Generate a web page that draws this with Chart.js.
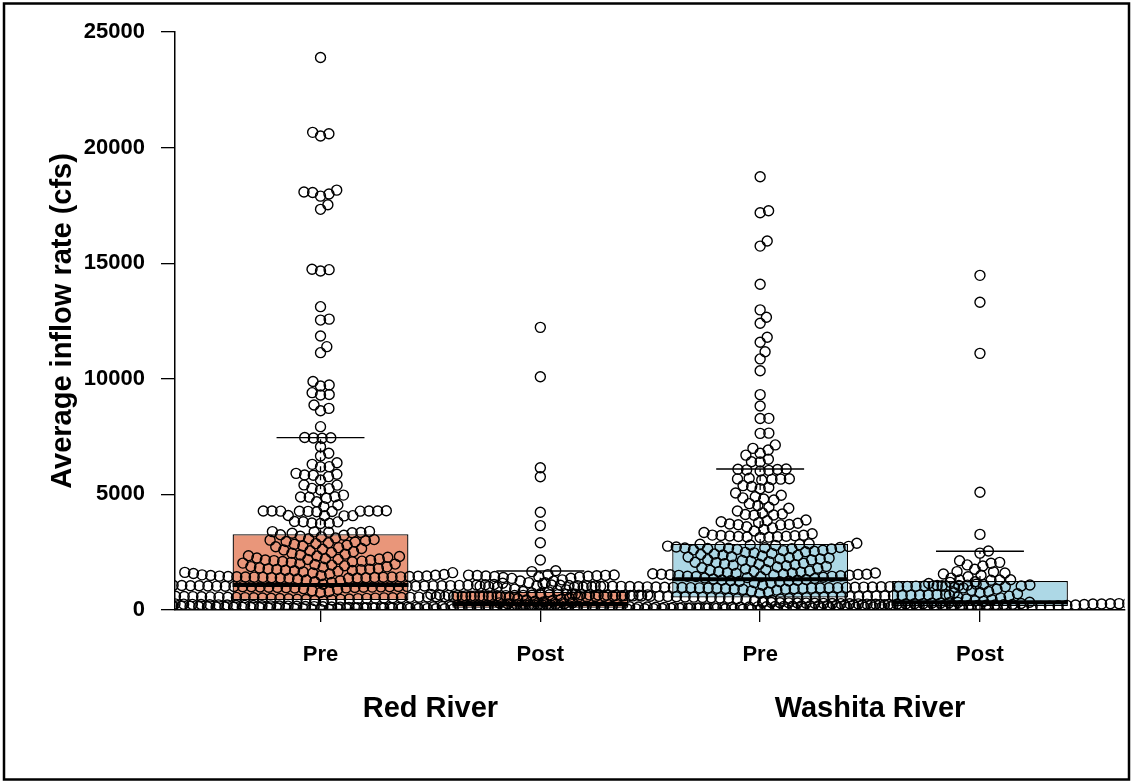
<!DOCTYPE html>
<html>
<head>
<meta charset="utf-8">
<title>Average inflow rate</title>
<script src="https://cdn.jsdelivr.net/npm/chart.js@4.4.1/dist/chart.umd.min.js"></script>
<style>
  html, body { margin: 0; padding: 0; background: #fff; }
  canvas { display: block; }
</style>
</head>
<body>
<canvas id="chart" width="1131" height="782"></canvas>
<script>
// ---- categories and tick labels ----
const rivers = ['Red River', 'Washita River'];
const periods = ['Pre', 'Post', 'Pre', 'Post'];
const groupPositions = [1, 2, 3, 4];
const riverPositions = [1.5, 3.5];
const yTicks = [0, 5000, 10000, 15000, 20000, 25000];
const boxColors = ['#E9967A', '#E9967A', '#ADD8E6', '#ADD8E6'];

// ---- box summaries per group (cfs) ----
const whiskerLow = [26, 3, 14, 28];
const lowerQuartile = [430, 100, 540, 170];
const medians = [1080, 260, 1330, 330];
const upperQuartile = [3274, 790, 2855, 1255];
const whiskerHigh = [7455, 1690, 6100, 2540];

// ---- observed average inflow rates (cfs) ----
const redPre = [
  23900, 20660, 20600, 20500, 18160, 18080, 18060, 17990, 17900, 17530, 17330,
  14740, 14720, 14660, 13120, 12580, 12540, 11850, 11390, 11130,
  9880, 9730, 9690, 9400, 9320, 9300, 8870, 8720, 8620, 7930,
  7460, 7450, 7440, 7430, 7060, 6780, 6660, 6370, 6300, 6200, 6190,
  5910, 5870, 5840, 5830, 5770, 5620, 5410, 5400, 5260, 5250, 5190,
  4970, 4900, 4890, 4880, 4830, 4680, 4540, 4470,
  4290, 4285, 4280, 4280, 4280, 4275, 4275, 4270, 4265, 4260, 4250,
  4090, 4080, 4075, 4070, 3830, 3820, 3810, 3760, 3750, 3740,
  3400, 3390, 3380, 3360, 3350, 3340, 3320,
  3252, 3231, 3188, 3163, 3117, 3084, 3046, 3021, 2998, 2966, 2943, 2905, 2871, 2838,
  2802, 2769, 2734, 2697, 2662, 2628, 2593, 2561, 2524, 2487, 2453, 2418, 2382,
  2347, 2334, 2313, 2279, 2251, 2218, 2207, 2197, 2182, 2163, 2149,
  2136, 2112, 2095, 2088, 2061, 2029, 1997, 1986, 1968, 1943, 1912, 1878,
  1867, 1853, 1821, 1798, 1779, 1762, 1751, 1738, 1722, 1709, 1698, 1672,
  1648, 1627, 1615, 1603, 1579, 1562, 1538, 1521,
  1505, 1492, 1488, 1471, 1466, 1458, 1449, 1446, 1441, 1433, 1430,
  1427, 1422, 1419, 1410, 1404, 1401, 1396, 1390, 1386, 1378, 1371,
  1342, 1297, 1263, 1228, 1187, 1158,
  1124, 1116, 1103, 1097, 1091, 1084, 1081, 1077, 1072, 1066, 1063, 1059, 1056, 1052,
  1049, 1046, 1043, 1039, 1036, 1031, 1028, 1025, 1022, 1018, 1014, 1011, 1007, 1003,
  999, 996, 991, 987, 983, 977, 972, 966, 958, 949,
  921, 884, 838, 803, 757, 716,
  684, 677, 671, 667, 662, 656, 653, 648, 645, 641, 638, 634, 631, 627, 624, 621, 617,
  614, 611, 608, 604, 601, 598, 596, 593, 589, 586, 583, 580, 577, 573, 570, 566, 563,
  559, 556, 552, 548, 544, 541, 537, 533, 528, 524, 519, 515, 508, 503, 497, 491, 484,
  476, 468, 459, 451,
  438, 407, 383, 352, 318, 291, 263,
  243, 236, 231, 227, 222, 218, 214, 211, 207, 203, 199, 196, 193, 189, 186, 183, 179,
  176, 173, 171, 168, 165, 162, 159, 156, 153, 149, 146, 143, 139, 136, 133, 129, 126,
  122, 119, 115, 112, 108, 104, 101, 97, 93, 88, 84, 79, 74, 69, 63, 58, 52, 47, 41, 34, 26
];

const redPost = [
  12225, 10090, 6155, 5765, 4225, 3650, 2910, 2160, 1700, 1660,
  1532, 1517, 1509, 1498, 1491, 1479, 1468, 1462, 1448, 1437, 1421, 1403,
  1372, 1366, 1302, 1257, 1248, 1183, 1176,
  1052, 1033, 1021, 1012, 1006, 998, 989, 979, 948, 903, 871, 838, 801,
  781, 742, 706,
  668, 655, 647, 640, 633, 627, 621, 614, 609, 603, 598, 592, 587, 581, 574, 566, 558,
  549, 537, 522, 488, 461, 433, 402, 377, 351, 329, 318, 311, 306, 304, 297, 291, 286,
  281, 277, 272, 268, 265,
  258, 252, 249, 244, 241, 237, 233, 229, 226, 222, 219, 215, 212, 208, 205, 201, 198,
  194, 191, 187, 184, 180, 177, 173, 170, 166, 163, 159, 156, 152, 149, 145, 141, 138,
  134, 131, 127, 123, 119, 115, 110, 104,
  99, 96, 93, 91, 88, 86, 83, 81, 78, 76, 73, 71, 69, 66, 64, 61, 59, 57, 54, 52, 49,
  47, 45, 42, 40, 37, 35, 33, 30, 28, 26, 23, 21, 19, 17, 15, 13, 11, 9, 7, 5, 3
];

const washitaPre = [
  18740, 17270, 17180, 15960, 15740, 14090, 12980, 12660, 12400, 11800, 11580, 11170,
  10860, 10350, 9315, 8825, 8290, 8280, 7650, 7640,
  7140, 6990, 6920, 6780, 6700, 6520, 6410, 6400,
  6100, 6090, 6080, 6060, 6040, 6010, 5700, 5680, 5670, 5660, 5650, 5620,
  5380, 5340, 5300, 5250, 5060, 4960, 4900, 4850, 4800, 4760,
  4600, 4520, 4450, 4400, 4280, 4200, 4150, 4130, 4110, 4100,
  3890, 3860, 3820, 3780, 3750, 3720, 3700, 3690, 3680, 3600, 3550, 3480, 3420, 3350, 3300,
  3240, 3230, 3220, 3210, 3200, 3190, 3180, 3170, 3160, 3150, 3140,
  2884, 2861, 2847, 2826, 2809, 2788, 2764, 2752,
  2741, 2722, 2704, 2693, 2681, 2674, 2659, 2648, 2637, 2619, 2602, 2587, 2568,
  2543, 2518, 2494, 2471, 2448, 2423, 2402, 2377, 2361, 2334, 2309, 2291, 2268, 2243,
  2219, 2204, 2178, 2163, 2139, 2112, 2093, 2068, 2051, 2022, 2003, 1981, 1958, 1939,
  1913, 1887, 1862, 1828, 1803, 1771, 1742, 1713, 1688, 1671, 1652, 1638, 1617, 1603,
  1598, 1584, 1571, 1558, 1549, 1544, 1536, 1526, 1518,
  1505, 1497, 1482, 1461, 1455, 1447, 1438, 1419, 1402, 1383, 1361, 1342,
  1318, 1297, 1286, 1268, 1253, 1236, 1219, 1197, 1183, 1161, 1139, 1117,
  1082, 1077, 1071, 1068, 1063, 1059, 1055, 1052, 1048, 1045, 1041, 1038, 1034, 1031,
  1027, 1024, 1021, 1017, 1014, 1011, 1008, 1004, 1001, 998, 994, 991, 987, 984, 980,
  977, 973, 969, 966, 962, 958, 954, 949, 945, 940, 934, 928, 921, 913, 904, 893,
  861, 822, 781, 744, 712,
  679, 672, 666, 661, 655, 651, 646, 642, 637, 633, 629, 624, 620, 616, 612, 608, 604,
  600, 597, 593, 589, 585, 581, 577, 573, 569, 564, 560, 555, 551, 546, 541, 536, 530,
  524, 517, 509, 500, 489, 476,
  452, 421, 394, 366, 337, 309, 284, 258,
  236, 229, 224, 219, 215, 211, 207, 203, 199, 196, 192, 189, 185, 182, 179, 175, 172,
  169, 166, 163, 160, 157, 154, 151, 148, 145, 142, 139, 136, 133, 130, 127, 124, 121,
  118, 115, 112, 109, 106, 103, 99, 96, 92, 88, 84, 80, 76, 72, 67, 62, 57, 52, 46, 40,
  34, 28, 21, 14
];

const washitaPost = [
  14475, 13310, 11100, 5090, 3270, 2550, 2460, 2130, 2060, 2020, 1950, 1900, 1760,
  1660, 1650, 1600, 1560, 1500, 1440, 1380, 1310, 1300, 1300, 1290,
  1221, 1148, 1103, 1079, 1062, 1041, 1023, 1012, 991, 958, 903, 849, 797, 758, 702,
  644, 598, 561, 523, 479, 441, 402, 371, 346,
  329, 325, 322, 319, 316, 313, 310, 307, 304, 301, 298, 295, 292, 289, 286, 283, 280,
  277, 274, 271, 268, 265, 262, 258, 254, 250,
  238, 226, 217, 208, 199, 191, 183, 176, 169, 162, 155, 148, 141, 134, 126, 118, 110,
  101, 92, 82, 71, 59, 45, 28
];

const groups = [redPre, redPost, washitaPre, washitaPost];

// ---- drawing constants ----
const FONT = "'Liberation Sans', Arial, Helvetica, sans-serif";
const BOX_HALF = 0.4;       // half box width, in category units
const STAPLE_HALF = 0.2;    // half staple width, in category units
const SWARM_GAP = 8.7;      // distance between neighbouring point centres, px
const X_MIN = 0.338, X_MAX = 4.658;

// Line segments joined into one dataset, separated by gaps.
function segmentData(segs) {
  const out = [];
  segs.forEach(([x0, y0, x1, y1], i) => {
    if (i > 0) out.push({ x: x0, y: null });
    out.push({ x: x0, y: y0 }, { x: x1, y: y1 });
  });
  return out;
}

const whiskerSegs = [];
const stapleSegs = [];
const medianSegs = [];
groupPositions.forEach((c, i) => {
  whiskerSegs.push([c, upperQuartile[i], c, whiskerHigh[i]]);
  whiskerSegs.push([c, lowerQuartile[i], c, whiskerLow[i]]);
  stapleSegs.push([c - STAPLE_HALF, whiskerHigh[i], c + STAPLE_HALF, whiskerHigh[i]]);
  stapleSegs.push([c - STAPLE_HALF, whiskerLow[i], c + STAPLE_HALF, whiskerLow[i]]);
  medianSegs.push([c - BOX_HALF, medians[i], c + BOX_HALF, medians[i]]);
});

// Beeswarm ("swarm" layout): points are placed in ascending order, each at the
// horizontal offset closest to the centre that does not overlap points already placed.
function swarmOffsets(values, toPixel, gap) {
  const order = values.map((_, i) => i).sort((a, b) => values[a] - values[b]);
  const px = [], py = [];
  const result = new Array(values.length);
  const gap2 = gap * gap;
  for (const i of order) {
    const y = toPixel(values[i]);
    const near = [];
    for (let k = py.length - 1; k >= 0; k--) {
      if (py[k] - y >= gap) break;
      near.push(k);
    }
    const cands = [0];
    near.forEach(k => { const dy = py[k] - y; cands.push(px[k] + Math.sqrt(gap2 - dy * dy)); });
    near.forEach(k => { const dy = py[k] - y; cands.push(px[k] - Math.sqrt(gap2 - dy * dy)); });
    const ranked = cands.map((c, j) => [Math.abs(c), j, c]).sort((a, b) => (a[0] - b[0]) || (a[1] - b[1]));
    let chosen = 0;
    for (const r of ranked) {
      const c = r[2];
      let ok = true;
      for (const k of near) {
        const dx = c - px[k], dy = py[k] - y;
        if (dx * dx + dy * dy < gap2 - 1e-4) { ok = false; break; }
      }
      if (ok) { chosen = c; break; }
    }
    result[i] = chosen;
    px.push(chosen);
    py.push(y);
  }
  return result;
}

const framePlugin = {
  id: 'outerFrame',
  afterDraw(chart) {
    const g = chart.ctx;
    g.save();
    g.strokeStyle = '#000';
    g.lineWidth = 2.5;
    g.strokeRect(4, 3.5, 1125, 776);
    g.restore();
  }
};

const pointDatasets = groups.map((vals, g) => ({
  type: 'scatter',
  data: vals.map(v => ({ x: groupPositions[g], y: v })),
  pointStyle: 'circle',
  pointRadius: 5,
  pointBorderWidth: 1.4,
  pointBorderColor: '#000',
  pointBackgroundColor: 'rgba(0,0,0,0)',
  clip: 0,
  order: 1
}));

const lineCommon = {
  type: 'line', showLine: true, fill: false, tension: 0, spanGaps: false,
  pointRadius: 0, borderColor: '#000', clip: 0
};

const config = {
  type: 'scatter',
  data: {
    datasets: [
      {
        type: 'bar',
        data: groupPositions.map((x, i) => ({ x, y: [lowerQuartile[i], upperQuartile[i]] })),
        backgroundColor: boxColors,
        borderColor: '#000',
        borderWidth: 1.3,
        borderSkipped: false,
        categoryPercentage: 0.8,
        barPercentage: 1,
        order: 5
      },
      Object.assign({}, lineCommon, { data: segmentData(whiskerSegs), borderWidth: 1.3, borderDash: [5, 4], order: 4 }),
      Object.assign({}, lineCommon, { data: segmentData(stapleSegs), borderWidth: 1.4, order: 3 }),
      Object.assign({}, lineCommon, { data: segmentData(medianSegs), borderWidth: 4, order: 2 }),
      ...pointDatasets
    ]
  },
  options: {
    responsive: false,
    animation: false,
    events: [],
    layout: { padding: { top: 32, right: 3, left: 0, bottom: 0 } },
    plugins: { legend: { display: false }, tooltip: { enabled: false } },
    scales: {
      x: {
        type: 'linear', position: 'bottom', min: X_MIN, max: X_MAX, offset: false, weight: 0,
        afterBuildTicks: s => { s.ticks = groupPositions.map(value => ({ value })); },
        afterFit: s => { s.height = 60; },
        ticks: {
          autoSkip: false, maxRotation: 0, padding: 20, color: '#000',
          font: { family: FONT, size: 22, weight: 'bold' },
          callback: (v, i) => periods[i]
        },
        grid: { display: true, drawOnChartArea: false, drawTicks: true, tickLength: 12, color: '#000', lineWidth: 1.3, offset: false },
        border: { display: true, color: '#000', width: 1.5 }
      },
      x2: {
        type: 'linear', position: 'bottom', min: X_MIN, max: X_MAX, offset: false, weight: 1,
        afterBuildTicks: s => { s.ticks = riverPositions.map(value => ({ value })); },
        afterFit: s => { s.height = 112; },
        ticks: {
          autoSkip: false, maxRotation: 0, padding: 14, color: '#000',
          font: { family: FONT, size: 29, weight: 'bold' },
          callback: (v, i) => rivers[i]
        },
        grid: { display: false, offset: false },
        border: { display: false }
      },
      y: {
        type: 'linear', position: 'left', min: 0, max: 25000,
        afterBuildTicks: s => { s.ticks = yTicks.map(value => ({ value })); },
        afterFit: s => { s.width = 175; },
        ticks: {
          padding: 16, color: '#000',
          font: { family: FONT, size: 22, weight: 'bold' },
          callback: v => String(v)
        },
        grid: { drawOnChartArea: false, drawTicks: true, tickLength: 14, color: '#000', lineWidth: 1.3 },
        border: { display: true, color: '#000', width: 1.5 },
        title: {
          display: true, text: 'Average inflow rate (cfs)', color: '#000',
          font: { family: FONT, size: 29, weight: 'bold' },
          padding: { top: 46, bottom: 0 }
        }
      }
    }
  },
  plugins: [framePlugin]
};

const chart = new Chart(document.getElementById('chart'), config);

// Second pass: spread each group's points with the swarm layout, using the chart's own scales.
(function layoutSwarms() {
  const xs = chart.scales.x, ys = chart.scales.y;
  const unit = xs.getPixelForValue(2) - xs.getPixelForValue(1);
  groups.forEach((vals, g) => {
    const offs = swarmOffsets(vals, v => ys.getPixelForValue(v), SWARM_GAP);
    chart.data.datasets[4 + g].data = vals.map((v, i) => ({ x: groupPositions[g] + offs[i] / unit, y: v }));
  });
  chart.update('none');
})();
</script>
</body>
</html>
